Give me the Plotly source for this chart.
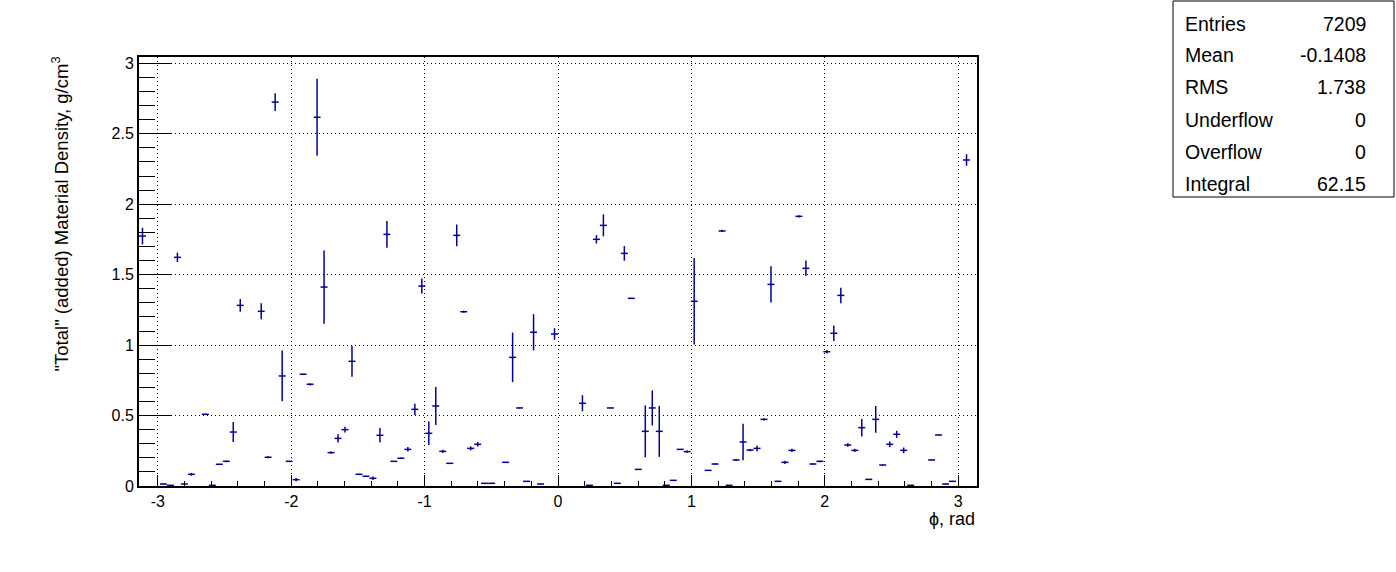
import numpy as np
import plotly.graph_objects as go

# ---- data (120 bins over [-pi, pi]) ----
n_bins = 120
phi_min, phi_max = -np.pi, np.pi
density = [
    1.774, None, None, 0.014, 0.005, 1.623, 0.014, 0.083, None, 0.509,
    0.005, 0.154, 0.175, 0.383, 1.282, None, None, 1.240, 0.204, 2.725,
    0.781, 0.175, 0.045, 0.793, 0.722, 2.617, 1.412, 0.237, 0.338, 0.400,
    0.885, 0.083, 0.069, 0.055, 0.360, 1.786, 0.175, 0.197, 0.260, 0.544,
    1.419, 0.374, 0.568, 0.246, 0.161, 1.779, 1.237, 0.267, 0.296, 0.019,
    0.019, None, 0.168, 0.913, 0.554, 0.033, 1.091, 0.014, None, 1.079,
    None, None, None, 0.587, 0.005, 1.751, 1.850, 0.554, 0.019, 1.651,
    1.332, 0.118, 0.388, 0.554, 0.388, 0.005, 0.040, 0.260, 0.244, 1.311,
    None, 0.111, 0.156, 1.810, 0.005, 0.185, 0.312, 0.255, 0.267, 0.473,
    1.431, 0.033, 0.168, 0.253, 1.914, 1.545, 0.156, 0.175, 0.953, 1.084,
    1.353, 0.291, 0.253, 0.414, 0.047, 0.473, 0.149, 0.296, 0.367, 0.253,
    0.005, None, None, 0.185, 0.362, 0.014, 0.033, None, 2.314, None,
]
density_err = [
    0.059, 0, 0, 0.003, 0.002, 0.033, 0.004, 0.010, 0, 0.004,
    0.002, 0.004, 0.006, 0.071, 0.045, 0, 0, 0.057, 0.007, 0.063,
    0.180, 0.003, 0.012, 0.003, 0.008, 0.273, 0.260, 0.008, 0.030, 0.020,
    0.109, 0.004, 0.004, 0.012, 0.052, 0.095, 0.003, 0.006, 0.016, 0.040,
    0.053, 0.083, 0.135, 0.012, 0.003, 0.077, 0.008, 0.014, 0.016, 0.003,
    0.004, 0, 0.003, 0.176, 0.003, 0.003, 0.129, 0.003, 0, 0.041,
    0, 0, 0, 0.057, 0.002, 0.030, 0.078, 0.003, 0.003, 0.052,
    0.003, 0.003, 0.184, 0.124, 0.181, 0.002, 0.003, 0.003, 0.008, 0.307,
    0, 0.003, 0.003, 0.008, 0.002, 0.007, 0.130, 0.008, 0.020, 0.008,
    0.128, 0.005, 0.012, 0.012, 0.008, 0.055, 0.003, 0.006, 0.012, 0.055,
    0.055, 0.012, 0.012, 0.062, 0.003, 0.095, 0.003, 0.020, 0.025, 0.020,
    0.002, 0, 0, 0.003, 0.003, 0.003, 0.004, 0, 0.041, 0,
]
stats_labels = ["Entries", "Mean", "RMS", "Underflow", "Overflow", "Integral"]
stats_values = ["7209", "-0.1408", "1.738", "0", "0", "62.15"]

x_ticks = [-3, -2, -1, 0, 1, 2, 3]
y_ticks = [0, 0.5, 1, 1.5, 2, 2.5, 3]
y_tick_text = ["0", "0.5", "1", "1.5", "2", "2.5", "3"]

# ---- geometry ----
W, H = 1396, 572
L, R, T, B = 139, 977, 57, 486
edges = np.linspace(phi_min, phi_max, n_bins + 1)
centers = 0.5 * (edges[:-1] + edges[1:])
half_w = 0.5 * (edges[1] - edges[0])

COL = "#00009a"
FONT = "Liberation Sans, Arial, Helvetica, sans-serif"

def px(xp):
    return (xp - L) / (R - L)

def py(yp):
    return (B - yp) / (B - T)

fig = go.Figure()
fig.add_trace(go.Scatter(
    x=centers, y=density, mode="markers",
    marker=dict(size=0.1, color=COL, opacity=0),
    error_y=dict(type="data", array=density_err, visible=True,
                 color=COL, thickness=1.5, width=0),
    error_x=dict(type="constant", value=half_w, visible=True,
                 color=COL, thickness=1.5, width=0),
    showlegend=False, hoverinfo="x+y",
))

grid_dash = "1px,3px"
fig.update_xaxes(
    range=[phi_min, phi_max], tickmode="array", tickvals=x_ticks,
    ticktext=[str(v) for v in x_ticks],
    ticks="inside", ticklen=11, tickwidth=1, tickcolor="black",
    minor=dict(dtick=0.2, tick0=0, ticks="inside", ticklen=5, tickcolor="black",
               tickwidth=1, showgrid=False),
    showgrid=True, gridcolor="black", gridwidth=1, griddash=grid_dash,
    showline=True, linecolor="black", linewidth=2, mirror=True,
    zeroline=False, tickfont=dict(family=FONT, size=16, color="black"),
)
fig.update_yaxes(
    range=[0, 3.045], tickmode="array", tickvals=y_ticks, ticktext=y_tick_text,
    ticks="inside", ticklen=32, tickwidth=1, tickcolor="black",
    minor=dict(dtick=0.1, tick0=0, ticks="inside", ticklen=16, tickcolor="black",
               tickwidth=1, showgrid=False),
    showgrid=True, gridcolor="black", gridwidth=1, griddash=grid_dash,
    showline=True, linecolor="black", linewidth=2, mirror=True,
    zeroline=False, tickfont=dict(family=FONT, size=16, color="black"),
)

annotations = [
    dict(text='"Total" (added) Material Density, g/cm<sup>3</sup>',
         textangle=-90, xref="paper", yref="paper", x=px(61), y=py(55),
         xanchor="center", yanchor="top", showarrow=False,
         font=dict(family=FONT, size=18.5, color="black")),
    dict(text="\u03d5, rad", xref="paper", yref="paper", x=px(977), y=py(507),
         xanchor="right", yanchor="top", showarrow=False,
         font=dict(family=FONT, size=18, color="black")),
]
row_y = [24, 55, 87, 120, 152, 184]
for lab, val, yy in zip(stats_labels, stats_values, row_y):
    annotations.append(dict(text=lab, xref="paper", yref="paper", x=px(1183), y=py(yy),
                            xanchor="left", yanchor="middle", showarrow=False,
                            font=dict(family=FONT, size=19.5, color="black")))
    annotations.append(dict(text=val, xref="paper", yref="paper", x=px(1368), y=py(yy),
                            xanchor="right", yanchor="middle", showarrow=False,
                            font=dict(family=FONT, size=19.5, color="black")))

fig.update_layout(
    width=W, height=H, autosize=False,
    margin=dict(l=L, r=W - R, t=T, b=H - B, pad=0),
    paper_bgcolor="white", plot_bgcolor="white",
    annotations=annotations,
    shapes=[dict(type="rect", xref="paper", yref="paper",
                 x0=px(1173), x1=px(1394), y0=py(197), y1=py(1),
                 line=dict(color="black", width=1), fillcolor="rgba(0,0,0,0)")],
)

fig.write_html("out.html", include_plotlyjs=True,
               config={"displayModeBar": False},
               post_script="document.body.style.margin='0';")
